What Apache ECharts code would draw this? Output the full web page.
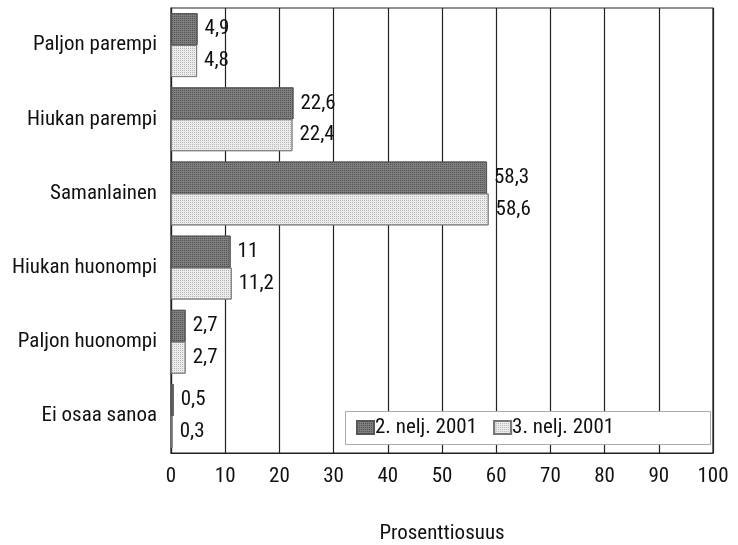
<!DOCTYPE html>
<html><head><meta charset="utf-8">
<script src="https://cdn.jsdelivr.net/npm/echarts@6/dist/echarts.min.js"></script>
<style>html,body{margin:0;padding:0;background:#fff}#c{width:738px;height:545px}</style>
</head><body><div id="c"></div>
<script>
const categories = ['Paljon parempi','Hiukan parempi','Samanlainen','Hiukan huonompi','Paljon huonompi','Ei osaa sanoa'];
const seriesNames = ['2. nelj. 2001','3. nelj. 2001'];
const q2 = [4.9, 22.6, 58.3, 11, 2.7, 0.5];
const q3 = [4.8, 22.4, 58.6, 11.2, 2.7, 0.3];
const axisName = 'Prosenttiosuus';

const FONT = '"Roboto Condensed","Liberation Sans Narrow",sans-serif';
const FS = 21;
const fmt = p => String(p.value).replace('.', ',');
const chart = echarts.init(document.getElementById('c'), null, {renderer:'canvas'});
const lbl = {show:true, position:'right', distance:7, color:'#111', fontFamily:FONT, fontSize:FS, formatter:fmt};
chart.setOption({
  animation:false,
  backgroundColor:'#fff',
  textStyle:{fontFamily:FONT},
  grid:{left:171, right:25, top:8, bottom:92, show:true, borderColor:'#222', borderWidth:1.2, outerBoundsMode:'none', containLabel:false},
  graphic:[{type:'rect', left:345, top:411, shape:{width:365, height:33}, style:{fill:'#fff', stroke:'#aaa', lineWidth:1}, z:5}],
  legend:{
    data:seriesNames, left:356, top:417, z:10,
    icon:'rect', padding:0,
    itemWidth:17, itemHeight:13, itemGap:16,
    textStyle:{fontFamily:FONT, fontSize:FS, color:'#111', padding:[0,0,0,-4]}
  },
  xAxis:{
    type:'value', min:0, max:100, interval:10,
    name:axisName, nameLocation:'middle', nameGap:70,
    nameTextStyle:{fontFamily:FONT, fontSize:FS, color:'#111'},
    axisLine:{show:true, lineStyle:{color:'#222', width:1.2}},
    axisTick:{show:false},
    axisLabel:{fontFamily:FONT, fontSize:FS, color:'#111', margin:13},
    splitLine:{show:true, lineStyle:{color:'#222', width:1.2}}
  },
  yAxis:{
    type:'category', data:categories, inverse:true,
    axisLine:{show:true, lineStyle:{color:'#222', width:1.2}},
    axisTick:{show:false},
    axisLabel:{fontFamily:FONT, fontSize:FS, color:'#111', margin:14}
  },
  series:[
    {name:seriesNames[0], type:'bar', data:q2, barGap:'0%', barCategoryGap:'14%',
     itemStyle:{color:'#7e7e7e', borderColor:'#555', borderWidth:0.8,
       decal:{symbol:'rect', symbolSize:1, dashArrayX:[1,1], dashArrayY:[1,1], color:'rgba(40,40,40,0.5)'}},
     label:lbl},
    {name:seriesNames[1], type:'bar', data:q3, barGap:'0%', barCategoryGap:'14%',
     itemStyle:{color:'#ececec', borderColor:'#777', borderWidth:0.8,
       decal:{symbol:'rect', symbolSize:1, dashArrayX:[1,1], dashArrayY:[1,1], color:'rgba(120,120,120,0.45)'}},
     label:lbl}
  ]
});
</script></body></html>
